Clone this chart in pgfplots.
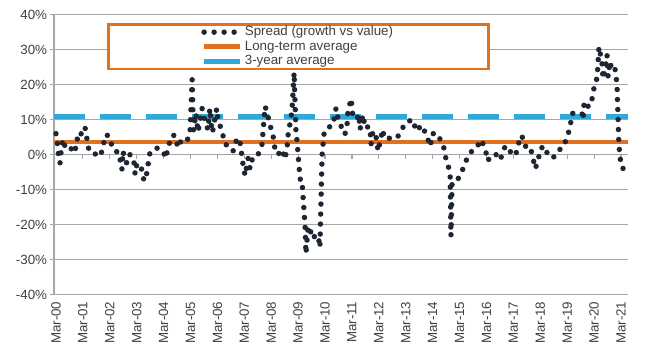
\documentclass[border=0pt]{standalone}
\usepackage{fontspec}
\setmainfont{Liberation Sans}
\usepackage{pgfplots}
\pgfplotsset{compat=1.18}
\usetikzlibrary{calc}
\definecolor{dotc}{HTML}{1E2533}
\definecolor{lorange}{HTML}{E2701E}
\definecolor{lblue}{HTML}{2FA8DA}
\definecolor{gridc}{HTML}{A6A6A6}
\definecolor{txt}{HTML}{404040}
\begin{document}
\begin{tikzpicture}
\begin{axis}[
  scale only axis,
  width=430.5pt, height=210pt,
  xmin=-0.074, xmax=21.26,
  ymin=-40, ymax=40,
  axis x line*=bottom, axis y line*=left,
  x axis line style={draw=gridc, line width=0.9pt},
  y axis line style={draw=gridc, line width=0.9pt},
  ytick={-40,-30,-20,-10,0,10,20,30,40},
  yticklabels={-40\%,-30\%,-20\%,-10\%,0\%,10\%,20\%,30\%,40\%},
  xtick={0,1,...,21},
  xticklabels={Mar-00,Mar-01,Mar-02,Mar-03,Mar-04,Mar-05,Mar-06,Mar-07,Mar-08,Mar-09,Mar-10,Mar-11,Mar-12,Mar-13,Mar-14,Mar-15,Mar-16,Mar-17,Mar-18,Mar-19,Mar-20,Mar-21},
  xtick style={draw=none},
  ytick style={draw=gridc, line width=0.9pt},
  tick align=outside, major tick length=3pt,
  ymajorgrids, grid style={draw=gridc, line width=0.9pt},
  tick label style={font=\fontsize{10}{12}\selectfont, text=txt},
  xticklabel style={rotate=90, anchor=east, inner sep=2pt},
  yticklabel style={inner sep=2pt},
  legend image code/.code={\draw[#1] (0pt,0pt) -- (27pt,0pt);},
  legend style={at={(0.0923,0.970)}, anchor=north west, draw=lorange, line width=1.9pt,
    fill=white, font=\fontsize{10}{11}\selectfont, text=txt,
    minimum width=285pt, minimum height=33pt, inner ysep=0pt, row sep=-0.6pt,
    nodes={inner sep=1.5pt, minimum width=0pt, minimum height=0pt}},
  legend cell align=left,
  clip=false,
]
% tick marks on the 0% line
\addplot[gridc, line width=0.9pt, forget plot, unbounded coords=jump] coordinates {
(1,0.3)(1,-1.1)(1,nan) (2,0.3)(2,-1.1)(2,nan) (3,0.3)(3,-1.1)(3,nan) (4,0.3)(4,-1.1)(4,nan)
(5,0.3)(5,-1.1)(5,nan) (6,0.3)(6,-1.1)(6,nan) (7,0.3)(7,-1.1)(7,nan) (8,0.3)(8,-1.1)(8,nan)
(9,0.3)(9,-1.1)(9,nan) (10,0.3)(10,-1.1)(10,nan) (11,0.3)(11,-1.1)(11,nan) (12,0.3)(12,-1.1)(12,nan)
(13,0.3)(13,-1.1)(13,nan) (14,0.3)(14,-1.1)(14,nan) (15,0.3)(15,-1.1)(15,nan) (16,0.3)(16,-1.1)(16,nan)
(17,0.3)(17,-1.1)(17,nan) (18,0.3)(18,-1.1)(18,nan) (19,0.3)(19,-1.1)(19,nan) (20,0.3)(20,-1.1)(20,nan)
(21,0.3)(21,-1.1)};
% averages
\addplot[lorange, line width=3.6pt, forget plot] coordinates {(-0.074,3.6) (21.26,3.6)};
\addplot[lblue, line width=3.6pt, dash pattern=on 23.25pt off 11.25pt, forget plot] coordinates {(-0.074,10.8) (21.26,10.8)};
% spread (growth vs value)
\addplot[dotc, line width=4.1pt, line cap=round, line join=round, dash pattern=on 0pt off 7.5pt] coordinates {
(0.00,6) (0.04,4.5) (0.07,1) (0.15,-2.4) (0.19,1) (0.26,4.4) (0.33,2.5) (0.41,3) (0.52,2.5) (0.63,0.5)
(0.71,1) (0.78,4.5) (0.89,4) (0.97,7.6) (1.08,7.8) (1.15,4.5) (1.23,1) (1.34,0.8) (1.45,0.3) (1.52,-0.3)
(1.64,-0.5) (1.75,2) (1.82,5.6) (1.93,5.5) (2.01,3.5) (2.12,2.5) (2.23,2) (2.30,-1) (2.38,-1.2) (2.45,-4.2)
(2.49,1) (2.56,-1.5) (2.64,-2.5) (2.71,-1.2) (2.75,0) (2.83,-2) (2.90,-2.2) (2.94,-5.6) (3.01,-2.5) (3.12,-3)
(3.20,-4.5) (3.27,-7.5) (3.35,-6.3) (3.42,-3) (3.49,0.5) (3.61,1.5) (3.68,1.5) (3.79,2) (3.90,1) (3.98,0.5)
(4.05,0) (4.09,-1) (4.16,2) (4.27,4.5) (4.31,5.5) (4.42,5.5) (4.53,2) (4.65,4) (4.68,4.5) (4.80,4)
(4.91,4.5) (4.98,6.2) (5.06,21.4) (5.11,7) (5.20,11.8) (5.28,6.5) (5.43,13.2) (5.54,9.5) (5.65,7.2) (5.72,13.2)
(5.80,6.3) (5.87,8) (5.91,11) (5.98,13.2) (6.02,10) (6.17,6.7) (6.28,3) (6.43,2.5) (6.58,1) (6.65,2.5)
(6.73,4.8) (6.84,3.6) (6.95,-2.7) (7.03,-6) (7.14,-1) (7.21,-4) (7.32,-0.5) (7.51,0) (7.66,3) (7.69,6)
(7.77,13.8) (7.84,12.3) (7.95,8.6) (8.07,5.3) (8.14,1.5) (8.25,0) (8.40,1.5) (8.51,-1.3) (8.59,2) (8.62,5.3)
(8.70,9) (8.77,12.3) (8.85,23.5) (8.92,6.5) (8.96,3.8) (9.00,0) (9.07,-7) (9.14,-7) (9.26,-20.8) (9.29,-28.3)
(9.37,-20.5) (9.44,-21) (9.52,-24) (9.66,-23) (9.74,-23) (9.81,-26.5) (9.89,0) (9.96,5.8) (10.04,7.5) (10.18,8)
(10.30,8.5) (10.41,13.3) (10.48,10.4) (10.63,7.5) (10.74,5.8) (10.82,8.6) (10.85,12.3) (10.97,16) (11.04,10.4) (11.19,10.4)
(11.26,11.5) (11.30,7.2) (11.41,11.4) (11.49,7.5) (11.60,8) (11.67,7.8) (11.71,3) (11.78,6.7) (11.89,5.5) (11.97,1)
(12.08,5) (12.15,7.2) (12.19,4.7) (12.34,4.7) (12.45,4.7) (12.60,4.5) (12.68,5) (12.79,6) (12.86,7.2) (12.97,9)
(13.08,9.5) (13.27,10) (13.34,8) (13.42,6.7) (13.53,8) (13.64,8.3) (13.68,7) (13.79,5.3) (13.90,2.4) (13.98,5)
(14.01,6.1) (14.09,5.5) (14.16,5.8) (14.27,4.5) (14.39,3) (14.46,0) (14.53,-2.4) (14.61,-4) (14.65,-5.6) (14.68,-23.2)
(14.72,-8.4) (14.83,-7.6) (14.91,-7.6) (15.02,-5.5) (15.09,-4.7) (15.20,-2.7) (15.28,-1) (15.39,0.5) (15.54,1.5) (15.65,2)
(15.76,4.2) (15.84,3.8) (15.95,1) (16.02,0) (16.06,-1.8) (16.13,-0.5) (16.21,0) (16.32,0) (16.39,0) (16.50,-1.5)
(16.62,0.5) (16.69,2.4) (16.80,1) (16.88,1) (16.95,-0.3) (17.06,0) (17.14,1) (17.25,5.3) (17.32,5.3) (17.43,2.4)
(17.55,2.4) (17.62,2.4) (17.73,-1) (17.81,-4) (17.92,-1.8) (17.99,1.5) (18.06,2) (18.18,2.4) (18.29,-0.5) (18.44,-0.8)
(18.55,-0.5) (18.62,0) (18.73,1.5) (18.85,2) (18.92,3.5) (18.99,4.7) (19.11,8) (19.18,11.8) (19.37,11.8) (19.55,11.8)
(19.59,10) (19.63,15.2) (19.78,13.8) (19.85,13.8) (19.92,15.8) (20.04,20.9) (20.11,21.7) (20.18,30.8) (20.22,29.4) (20.30,25.7)
(20.33,21.7) (20.41,24) (20.48,28.5) (20.52,22.3) (20.59,26.6) (20.67,23.7) (20.78,24.3) (20.85,20.3) (20.92,3) (20.96,-0.5)
(21.03,-3.8) (21.10,-4)};
\addlegendentry{Spread (growth vs value)}
\addlegendimage{lorange, line width=3.6pt}
\addlegendentry{Long-term average}
\addlegendimage{lblue, line width=3.6pt}
\addlegendentry{3-year average}
\end{axis}
\path ($(current axis.south west)+(-40.5pt,-41.6pt)$) rectangle ($(current axis.north east)+(16.5pt,11pt)$);
\end{tikzpicture}
\end{document}
